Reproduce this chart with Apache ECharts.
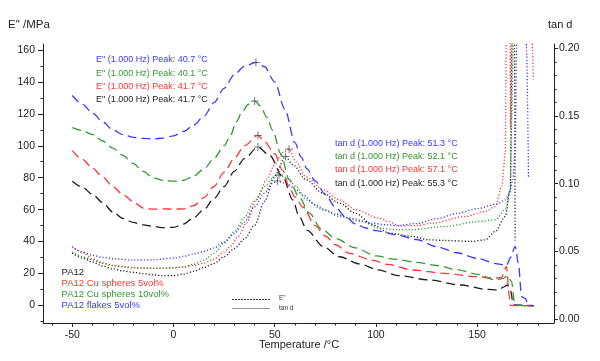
<!DOCTYPE html>
<html><head><meta charset="utf-8">
<script src="https://cdn.jsdelivr.net/npm/echarts@6/dist/echarts.min.js"></script>
<style>html,body{margin:0;padding:0;background:#fff}#c{width:600px;height:361px}</style>
</head><body><div id="c"></div>
<script>
// ---------- data ----------
// E'' (loss modulus, MPa) — temperatures and values
const tBlueE = [-50,-45,-40,-35,-30,-25,-20,-15,-10,-5,0,5,10,15,20,25,30,35,40.7,45,50,55,60,63,66,70,75,80,85,90,95,100,110,120,130,140,150,160,164.5,166.5,168.8,170.4,172,173.7,175.4,178];
const eBlue  = [131.5,126,120.5,115,110,107,105.3,104.6,104.3,104.8,106.2,109,113,118.5,127,136,144.5,149.8,152.2,149.5,140,123,102,93,85.5,78,69.5,61.5,55.5,51,48.5,46.8,44.2,41.3,36.8,33,29.5,26,25,30,37,26.5,5.5,4.5,0.3,-0.3];
const tGreenE = [-50,-45,-40,-35,-30,-25,-20,-15,-10,-5,0,5,10,15,20,25,28,31,34,37,40.1,43,46,49,53,57,62,67,73,80,90,100,110,120,130,140,150,159,163,165,167,168.5,170,178];
const eGreen  = [111.4,109.5,107,103,98.5,94,89,84,80,78.3,77.8,78.4,81,85.5,92,100,106,115,121.5,126,128,125,118,109.7,95,79,68,58,48,42,36,31,28.8,27,25,22.5,19.5,16,17,18.5,15,2,0,-0.3];
const tRedE = [-50,-45,-40,-35,-30,-25,-20,-15,-10,-5,0,5,10,15,20,25,30,35,41.7,45,50,54,57,60,64,70,75,80,87,98,106,118,134,150,159,162,164.5,165.9,166.5,178];
const eRed  = [97,91.5,86,80.5,74.5,69.5,65,61,60.3,60.5,60.3,60.5,62.5,67.5,74.5,83.5,92,100,106.5,102.5,95,84.5,74.5,68,61.5,50,43.5,38,32.6,28.4,25.7,22.2,20.1,18,17,17.5,24.5,5.5,0,-0.3];
const tBlackE = [-50,-45,-40,-35,-30,-25,-20,-15,-10,-5,0,5,10,15,20,25,30,35,41.7,47.5,54,59,62,66,74,82,92,101,111,126,142,155,160.6,163,165,166.4,168,178];
const eBlack  = [77.8,74,69.5,64.5,58.5,54.5,52,50.5,49.5,48.7,48.9,51,55,60,67,74.5,84,92,99.2,94,80.5,66,56,47,36.8,30.5,26,22.3,18.7,16,12.8,10,9.7,11.5,12.8,9.7,0.3,-0.3];

// tan d — temperatures and values
const tBlueT = [-50,-45,-40,-35,-30,-20,-10,0,5,10,15,20,25,30,35,40,45,49,51.3,54,57.3,60,63.8,70,75,80,87,98,106,110,120,130,140,150,160,164,166,167.5,168.8,169.5,170,174,174.4,175.4];
const dBlue  = [0.053,0.0495,0.047,0.0455,0.0445,0.0435,0.0437,0.045,0.0463,0.048,0.05,0.0525,0.057,0.063,0.0715,0.083,0.093,0.1004,0.102,0.1005,0.099,0.096,0.0917,0.0845,0.0805,0.0775,0.0745,0.0708,0.0695,0.069,0.0705,0.074,0.078,0.0815,0.085,0.088,0.093,0.102,0.1225,0.2,0.5,0.5,0.2,0.105];
const tRedT = [-50,-45,-40,-35,-30,-25,-20,-15,-10,-5,0,5,10,15,20,25,28,32,36,41,46,50,54,57.1,60.5,65.5,74,82,90,101.6,106.5,111.4,120,128,144,154,159,162.2,163.9,164.4,164.8,166,166.3,166.5,166.7,167,177,177.3,177.8];
const dRed  = [0.054,0.049,0.0445,0.0415,0.0398,0.0388,0.038,0.0376,0.0375,0.0375,0.0378,0.0383,0.0395,0.0413,0.0442,0.0495,0.0536,0.061,0.0708,0.088,0.103,0.114,0.123,0.1255,0.116,0.105,0.0954,0.088,0.0807,0.0745,0.072,0.0688,0.069,0.0708,0.0757,0.0794,0.083,0.098,0.1225,0.2,0.5,0.5,0.2,0.14,0.2,0.5,0.5,0.2,0.177];
const tGreenT = [-50,-45,-40,-35,-30,-25,-20,-15,-10,-5,0,5,10,15,20,25,30,35,40,45,49,52.1,56,60.6,65.5,73.7,82,93,101.6,110,118,134,150.8,159,163.9,166.4,167.1,167.8,168.3];
const dGreen  = [0.0495,0.046,0.0435,0.041,0.0393,0.0383,0.0377,0.0375,0.0374,0.0375,0.0378,0.0385,0.0405,0.0435,0.0485,0.056,0.0645,0.075,0.087,0.098,0.104,0.1065,0.104,0.098,0.088,0.0807,0.0757,0.072,0.067,0.066,0.066,0.0683,0.072,0.0733,0.0807,0.0954,0.147,0.2,0.5];
const tBlackT = [-50,-45,-40,-35,-30,-25,-20,-15,-10,-5,0,5,10,15,20,25,30,35,40,45,50,55.3,59,65.5,73.7,82,90,98.3,106.5,118,126,134,147.5,154,159,163.9,166.4,167.2,167.6,168.2,168.5,168.8];
const dBlack  = [0.0487,0.045,0.042,0.039,0.037,0.0355,0.0345,0.0335,0.0325,0.032,0.032,0.0332,0.0352,0.038,0.041,0.046,0.052,0.059,0.069,0.087,0.106,0.12,0.114,0.103,0.093,0.0856,0.078,0.0696,0.0635,0.061,0.0585,0.058,0.0573,0.0585,0.0647,0.0757,0.0954,0.2,0.5,0.5,0.2,0.058];

// peak markers
const peakET = [40.7,40.1,41.7,41.7];
const peakEV = [152.2,128,106.5,99.2];
const peakDT = [51.3,52.1,57.1,55.3];
const peakDV = [0.102,0.1065,0.1255,0.12];

// tick values
const xMajor = [-50,0,50,100,150];
const xMinor = [-60,-40,-30,-20,-10,10,20,30,40,60,70,80,90,110,120,130,140,160,170,180];
const yLeftMajor = [0,20,40,60,80,100,120,140,160];
const yLeftMinor = [-10,10,30,50,70,90,110,130,150];
const yRightMajor = [0,0.05,0.1,0.15,0.2];
const yRightMinor = [0.01,0.02,0.03,0.04,0.06,0.07,0.08,0.09,0.11,0.12,0.13,0.14,0.16,0.17,0.18,0.19];

// texts
const seriesNames = ['PA12','PA12 Cu spheres 5vol%','PA12 Cu spheres 10vol%','PA12 flakes 5vol%'];
const peakLabelsE = ['E" (1.000 Hz) Peak: 40.7 °C','E" (1.000 Hz) Peak: 40.1 °C','E" (1.000 Hz) Peak: 41.7 °C','E" (1.000 Hz) Peak: 41.7 °C'];
const peakLabelsD = ['tan d (1.000 Hz) Peak: 51.3 °C','tan d (1.000 Hz) Peak: 52.1 °C','tan d (1.000 Hz) Peak: 57.1 °C','tan d (1.000 Hz) Peak: 55.3 °C'];

// ---------- chart ----------
const C = {black:'#1e1e1e', red:'#ff3535', green:'#2f9a2f', blue:'#3a3aff'};
const FONT = '"Liberation Sans", Arial, sans-serif';
const pairs = (t,v)=>t.map((x,i)=>[x,v[i]]);

function eLine(name,t,v,col){
  return {name, type:'line', xAxisIndex:0, yAxisIndex:0, data:pairs(t,v), showSymbol:false, symbol:'none',
    smooth:0.3, smoothMonotone:'x', clip:true,
    lineStyle:{color:col, width:1.3, type:[9,5]}, z:3};
}
function dLine(name,t,v,col){
  return {name, type:'line', xAxisIndex:0, yAxisIndex:2, data:pairs(t,v), showSymbol:false, symbol:'none',
    smooth:0.3, smoothMonotone:'x', clip:true,
    lineStyle:{color:col, width:1.3, type:[1.2,2]}, z:2};
}
const crossSym = 'path://M5,0L5,10M0,5L10,5';

const lineOn = {show:true, onZero:false, lineStyle:{color:'#222', width:1}};
const lineOff = {show:false, onZero:false};

const graphics = [];
function txt(x,y,s,col,size,align){
  graphics.push({type:'text', z:100, style:{x, y, text:s, fill:col, fontSize:size, fontFamily:FONT, align:align||'left', verticalAlign:'middle'}});
}
txt(8,25,'E" /MPa','#222',11.5);
txt(548,25,'tan d','#222',11);
txt(299,345,'Temperature /°C','#222',11,'center');
const labCols = [C.blue, C.green, C.red, C.black];
const eY = [60,73.3,86.7,100];
peakLabelsE.forEach((s,i)=>txt(96,eY[i],s,labCols[i],9));
const dY = [143.3,156.6,170,183.3];
peakLabelsD.forEach((s,i)=>txt(335,dY[i],s,labCols[i],9));
const legCols = [C.black, C.red, C.green, C.blue];
const legY = [272.3,283.3,294.3,305.3];
seriesNames.forEach((s,i)=>txt(61.5,legY[i],s,legCols[i],9.5));
graphics.push({type:'line', z:100, shape:{x1:232,y1:299.5,x2:271,y2:299.5}, style:{stroke:'#222', lineWidth:0.9, lineDash:[2,1]}});
graphics.push({type:'line', z:100, shape:{x1:232,y1:308.5,x2:270,y2:308.5}, style:{stroke:'#666', lineWidth:0.7}});
txt(279,298,'E"','#333',6.5);
txt(279,308,'tan d','#333',6.5);

const option = {
  animation:false,
  backgroundColor:'#fff',
  grid:{left:43, right:46, top:44, bottom:38, containLabel:false},
  xAxis:[
    {type:'value', min:-64.5, max:188, position:'bottom', axisLine:lineOn, splitLine:{show:false},
      axisTick:{show:true, inside:false, length:4, customValues:xMajor, lineStyle:{color:'#222'}},
      axisLabel:{show:true, customValues:xMajor, margin:7, fontSize:10.5, color:'#222', fontFamily:FONT}},
    {type:'value', min:-64.5, max:188, position:'bottom', axisLine:lineOff, splitLine:{show:false},
      axisTick:{show:true, inside:false, length:2.5, customValues:xMinor, lineStyle:{color:'#222'}},
      axisLabel:{show:false}}
  ],
  yAxis:[
    {type:'value', min:-11, max:163.75, position:'left', axisLine:lineOn, splitLine:{show:false},
      axisTick:{show:true, inside:false, length:5, customValues:yLeftMajor, lineStyle:{color:'#222'}},
      axisLabel:{show:true, customValues:yLeftMajor, margin:8, fontSize:10.5, color:'#222', fontFamily:FONT}},
    {type:'value', min:-11, max:163.75, position:'left', axisLine:lineOff, splitLine:{show:false},
      axisTick:{show:true, inside:false, length:2.5, customValues:yLeftMinor, lineStyle:{color:'#222'}},
      axisLabel:{show:false}},
    {type:'value', min:-0.003, max:0.2032, position:'right', axisLine:lineOn, splitLine:{show:false},
      axisTick:{show:true, inside:false, length:4, customValues:yRightMajor, lineStyle:{color:'#222'}},
      axisLabel:{show:true, customValues:yRightMajor, margin:5, fontSize:10.5, color:'#222', fontFamily:FONT,
        formatter:v=>v.toFixed(2)}},
    {type:'value', min:-0.003, max:0.2032, position:'right', axisLine:lineOff, splitLine:{show:false},
      axisTick:{show:true, inside:false, length:2.5, customValues:yRightMinor, lineStyle:{color:'#222'}},
      axisLabel:{show:false}}
  ],
  series:[
    dLine('PA12 tan d', tBlackT, dBlack, C.black),
    dLine('Cu5 tan d', tRedT, dRed, C.red),
    dLine('Cu10 tan d', tGreenT, dGreen, C.green),
    dLine('flakes tan d', tBlueT, dBlue, C.blue),
    eLine('PA12 E', tBlackE, eBlack, C.black),
    eLine('Cu5 E', tRedE, eRed, C.red),
    eLine('Cu10 E', tGreenE, eGreen, C.green),
    eLine('flakes E', tBlueE, eBlue, C.blue),
    {type:'scatter', xAxisIndex:0, yAxisIndex:0, data:pairs(peakET,peakEV), symbol:crossSym, symbolSize:8, z:10,
      itemStyle:{color:'rgba(0,0,0,0)', borderColor:'#555', borderWidth:1}},
    {type:'scatter', xAxisIndex:0, yAxisIndex:2, data:pairs(peakDT,peakDV), symbol:crossSym, symbolSize:8, z:10,
      itemStyle:{color:'rgba(0,0,0,0)', borderColor:'#555', borderWidth:1}}
  ],
  graphic:graphics
};
const chart = echarts.init(document.getElementById('c'));
chart.setOption(option);
</script>
</body></html>
